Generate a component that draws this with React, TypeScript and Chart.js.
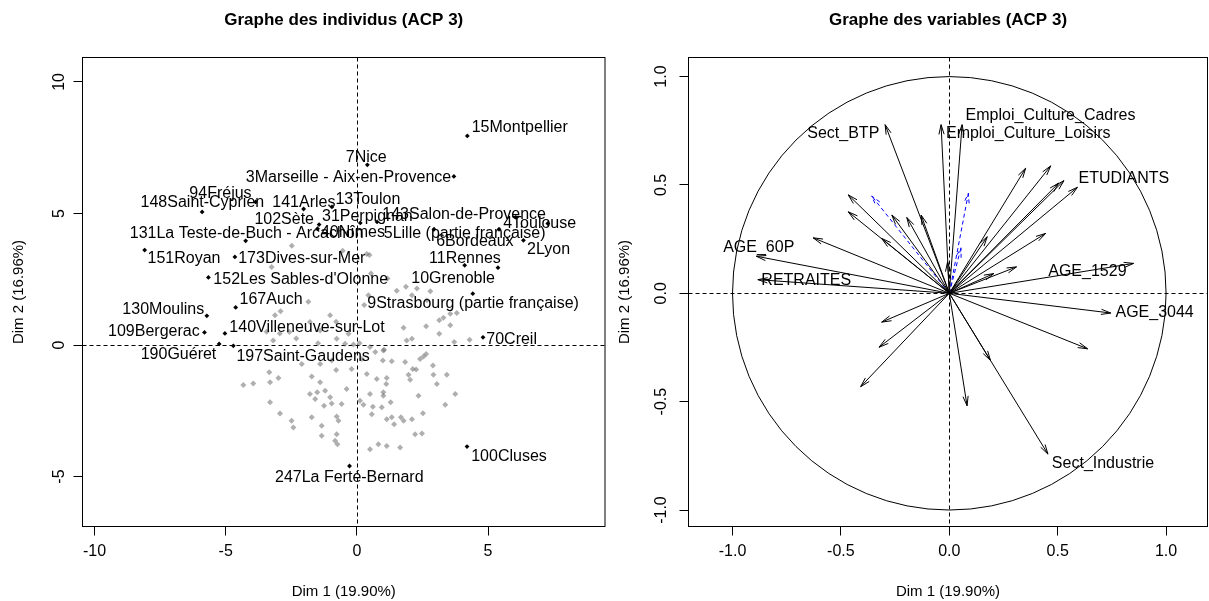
import React, { useEffect, useRef } from "react";
import { Chart, registerables } from "chart.js";

Chart.register(...registerables);

const FONT_FAMILY = '"Liberation Sans", Arial, Helvetica, sans-serif';

// ---------------- Individuals panel ----------------
const indivTitle = "Graphe des individus (ACP 3)";
const xAxisTitle = "Dim 1 (19.90%)";
const yAxisTitle = "Dim 2 (16.96%)";
const indivXTicks = [-10, -5, 0, 5];
const indivXTickLabels = ["-10", "-5", "0", "5"];
const indivYTicks = [-5, 0, 5, 10];
const indivYTickLabels = ["-5", "0", "5", "10"];
const indivXRange = [-10.46, 9.46];
const indivYRange = [-6.9, 10.93];

// grey (non-labelled) individuals
const greyX = [-4.33,-3.95,-3.31,-3.31,-3.34,-2.99,-2.93,-2.49,-2.42,-3.25,
  -3.12,-2.91,-3.19,-2.57,-1.79,-1.85,-1.02,-1.40,-0.77,-0.45,
  -0.13,-2.10,-1.40,-0.96,-1.72,-1.40,-1.79,-1.51,-1.21,-1.02,
  -1.59,-1.25,-0.96,-0.58,-0.39,-1.72,-1.34,-1.34,-0.77,-0.70,
  -0.77,-0.83,-0.74,0.12,0.25,0.50,0.61,0.95,0.57,1.01,
  1.01,1.14,0.76,0.38,0.19,-0.20,1.12,1.29,1.33,1.14,
  1.42,1.68,1.78,2.10,2.22,2.48,2.35,2.52,3.05,3.37,
  3.75,2.92,3.43,2.90,2.54,2.41,2.64,2.13,1.97,2.03,
  2.26,1.84,1.33,0.99,1.04,0.70,0.50,1.90,2.10,1.78,
  2.64,3.14,3.56,3.71,4.30,3.14,3.30,3.56,3.81,2.80,
  2.29,1.87,1.52,1.17,2.10,2.67,0.44,0.50,0.82,1.14,
  1.65,-0.32,1.01,-3.44,-2.94,-2.31,-0.79,-1.48,0.10,0.28,
  0.48,0.54,-0.79,-2.48,-0.54,0.38];
const greyY = [-1.52,-1.46,-1.42,-2.18,-1.04,-1.25,-2.60,-2.88,-3.14,2.97,
  1.13,1.28,0.17,0.49,0.87,1.64,1.13,0.55,0.24,0.05,
  0.02,-0.72,-0.72,-0.59,-1.20,-1.42,-1.86,-1.80,-1.74,-1.99,
  -2.05,-2.31,-2.22,-2.24,-1.67,-2.75,-3.07,-3.45,-2.72,-2.88,
  -3.39,-3.64,-3.77,-2.12,-2.27,-1.86,-2.35,-2.37,-2.63,-1.80,
  -1.93,-1.25,-1.29,-1.10,-0.53,-0.91,-1.48,-2.18,-2.75,-2.82,
  -3.01,-2.75,-2.88,-2.82,-3.39,-3.36,-1.93,-2.59,-1.48,-2.27,
  -1.86,-1.13,-1.13,-0.78,-0.44,-0.53,-0.34,-0.91,-1.13,-1.32,
  -0.93,-0.65,-0.62,-0.59,-0.18,-0.27,-0.08,0.17,0.24,0.66,
  0.71,0.43,0.75,0.11,0.20,0.94,1.04,1.19,1.22,2.04,
  2.15,2.21,2.06,2.53,1.89,1.70,1.89,-3.96,-3.77,-3.84,
  -3.90,0.43,-0.21,0.50,0.44,0.25,0.88,0.07,0.07,1.52,
  3.42,2.72,-0.95,3.77,3.58,3.46];

// black (highlighted) individuals
const blackX = [4.21,0.40,3.70,-3.86,-5.90,-2.03,-0.95,-1.44,-1.50,0.13,0.77,2.94,5.42,6.06,7.28,6.35,
  -4.24,-8.09,-4.65,-5.66,4.11,5.38,4.42,-4.62,-5.72,-5.81,-5.03,4.81,-5.25,-4.71,4.20,-0.28];
const blackY = [7.95,6.85,6.41,5.44,5.06,5.17,5.25,4.58,4.42,4.64,4.68,4.40,4.40,4.85,4.62,3.98,
  3.96,3.61,3.35,2.57,3.03,2.94,1.95,1.43,1.11,0.48,0.44,0.29,0.04,-0.03,-3.86,-4.60];

// labels of individuals (text anchor in data units)
const indivLabels = ["15Montpellier","7Nice","3Marseille - Aix-en-Provence","94Fréjus","148Saint-Cyprien",
  "141Arles","13Toulon","102Sète","31Perpignan","143Salon-de-Provence","4Toulouse","40Nîmes",
  "5Lille (partie française)","6Bordeaux","2Lyon","131La Teste-de-Buch - Arcachon","151Royan",
  "173Dives-sur-Mer","11Rennes","152Les Sables-d'Olonne","10Grenoble","167Auch",
  "9Strasbourg (partie française)","130Moulins","109Bergerac","140Villeneuve-sur-Lot","70Creil",
  "190Guéret","197Saint-Gaudens","100Cluses","247La Ferté-Bernard"];
const indivLabelX = [6.21,0.36,-0.32,-5.20,-5.89,-2.02,0.42,-2.77,0.40,4.09,6.97,-0.15,4.11,4.50,7.31,
  -4.20,-6.59,-2.10,4.12,-2.14,3.67,-3.27,4.43,-7.38,-7.74,-1.90,5.90,-6.80,-2.05,5.80,-0.29];
const indivLabelY = [8.26,7.14,6.38,5.75,5.40,5.40,5.51,4.77,4.90,4.94,4.60,4.28,4.25,3.95,3.63,
  4.22,3.27,3.27,3.29,2.50,2.51,1.71,1.58,1.36,0.51,0.67,0.22,-0.38,-0.44,-4.24,-5.04];

// ---------------- Variables panel ----------------
const varTitle = "Graphe des variables (ACP 3)";
const varTicks = [-1, -0.5, 0, 0.5, 1];
const varTickLabels = ["-1.0", "-0.5", "0.0", "0.5", "1.0"];
const varXRange = [-1.203, 1.191];
const varYRange = [-1.076, 1.088];

// active variables (arrow tips)
const activeVarX = [0.059,-0.038,-0.296,-0.890,-0.883,0.591,0.850,0.745,0.455,
  -0.466,-0.466,-0.628,-0.265,-0.196,-0.130,-0.312,-0.008,0.175,0.352,0.468,
  0.529,0.505,0.444,0.310,0.205,-0.312,-0.324,-0.409,0.082,0.638,0.190];
const activeVarY = [0.778,0.778,0.778,0.171,0.063,0.489,0.138,-0.091,-0.742,
  0.454,0.376,0.256,0.361,0.350,0.361,0.253,0.145,0.261,0.577,0.588,
  0.520,0.509,0.276,0.122,0.091,-0.133,-0.249,-0.431,-0.519,-0.256,-0.310];

// supplementary variables (blue dashed arrows)
const suppVarX = [-0.358, 0.088, 0.054];
const suppVarY = [0.449, 0.461, 0.210];

const varLabels = ["Emploi_Culture_Cadres","Emploi_Culture_Loisirs","Sect_BTP","AGE_60P","RETRAITES",
  "ETUDIANTS","AGE_1529","AGE_3044","Sect_Industrie"];
const varLabelX = [0.467,0.364,-0.489,-0.879,-0.660,0.805,0.637,0.947,0.709];
const varLabelY = [0.822,0.738,0.738,0.210,0.060,0.529,0.100,-0.089,-0.784];

// ---------------- helpers ----------------
function framePlugin(circle: boolean) {
  return {
    id: "rFrame",
    beforeDatasetsDraw(chart: any) {
      const { ctx, chartArea: a, scales } = chart;
      const xs = scales.x, ys = scales.y;
      ctx.save();
      ctx.beginPath();
      ctx.rect(a.left, a.top, a.width, a.height);
      ctx.clip();
      ctx.strokeStyle = "#000";
      ctx.lineWidth = 1;
      ctx.setLineDash([4, 3]);
      const x0 = Math.round(xs.getPixelForValue(0)) + 0.5;
      const y0 = Math.round(ys.getPixelForValue(0)) + 0.5;
      ctx.beginPath();
      ctx.moveTo(x0, a.top);
      ctx.lineTo(x0, a.bottom);
      ctx.moveTo(a.left, y0);
      ctx.lineTo(a.right, y0);
      ctx.stroke();
      ctx.setLineDash([]);
      if (circle) {
        const cx = xs.getPixelForValue(0), cy = ys.getPixelForValue(0);
        const rx = xs.getPixelForValue(1) - cx;
        const ry = cy - ys.getPixelForValue(1);
        ctx.beginPath();
        ctx.ellipse(cx, cy, rx, ry, 0, 0, Math.PI * 2);
        ctx.stroke();
      }
      ctx.restore();
    },
    afterDraw(chart: any) {
      const { ctx, chartArea: a } = chart;
      ctx.save();
      ctx.strokeStyle = "#000";
      ctx.lineWidth = 1;
      ctx.strokeRect(a.left, a.top, a.right - a.left, a.bottom - a.top);
      ctx.restore();
    },
  };
}

function textPlugin(texts: string[], xs: number[], ys: number[]) {
  return {
    id: "rText",
    afterDatasetsDraw(chart: any) {
      const { ctx, scales } = chart;
      ctx.save();
      ctx.font = `16px ${FONT_FAMILY}`;
      ctx.fillStyle = "#000";
      ctx.textAlign = "center";
      ctx.textBaseline = "middle";
      texts.forEach((t, i) => {
        ctx.fillText(t, scales.x.getPixelForValue(xs[i]), scales.y.getPixelForValue(ys[i]));
      });
      ctx.restore();
    },
  };
}

const arrowPlugin = {
  id: "rArrows",
  afterDatasetsDraw(chart: any) {
    const { ctx } = chart;
    ctx.save();
    chart.data.datasets.forEach((ds: any, i: number) => {
      if (!ds.arrow) return;
      const meta = chart.getDatasetMeta(i);
      const p0 = meta.data[0], p1 = meta.data[1];
      const ang = Math.atan2(p1.y - p0.y, p1.x - p0.x);
      const len = 10, half = (15 * Math.PI) / 180;
      ctx.strokeStyle = ds.borderColor;
      ctx.lineWidth = 1;
      ctx.setLineDash(ds.borderDash || []);
      ctx.beginPath();
      ctx.moveTo(p1.x - len * Math.cos(ang - half), p1.y - len * Math.sin(ang - half));
      ctx.lineTo(p1.x, p1.y);
      ctx.lineTo(p1.x - len * Math.cos(ang + half), p1.y - len * Math.sin(ang + half));
      ctx.stroke();
    });
    ctx.restore();
  },
};

function xAxis(range: number[], ticks: number[], labels: string[]) {
  return {
    type: "linear",
    position: "bottom",
    min: range[0],
    max: range[1],
    bounds: "data",
    afterBuildTicks: (s: any) => {
      s.ticks = ticks.map((v) => ({ value: v }));
    },
    afterFit: (s: any) => {
      s.height = 74.5;
    },
    grid: { display: true, drawOnChartArea: false, drawTicks: true, tickLength: 9, color: "#000", lineWidth: 1 },
    border: { display: false },
    ticks: {
      font: { family: FONT_FAMILY, size: 16 },
      color: "#000",
      padding: 6,
      autoSkip: false,
      minRotation: 0,
      maxRotation: 0,
      callback: (_v: any, i: number) => labels[i],
    },
    title: {
      display: true,
      text: xAxisTitle,
      color: "#000",
      font: { family: FONT_FAMILY, size: 15 },
      padding: { top: 0, bottom: 0 },
    },
  };
}

function yAxis(range: number[], ticks: number[], labels: string[], width: number, pad: number, titlePad: number) {
  return {
    type: "linear",
    position: "left",
    min: range[0],
    max: range[1],
    bounds: "data",
    afterBuildTicks: (s: any) => {
      s.ticks = ticks.map((v) => ({ value: v }));
    },
    afterFit: (s: any) => {
      s.width = width;
    },
    grid: { display: true, drawOnChartArea: false, drawTicks: true, tickLength: 9, color: "#000", lineWidth: 1 },
    border: { display: false },
    ticks: {
      font: { family: FONT_FAMILY, size: 16 },
      color: "#000",
      padding: pad,
      autoSkip: false,
      minRotation: 90,
      maxRotation: 90,
      crossAlign: "center",
      callback: (_v: any, i: number) => labels[i],
    },
    title: {
      display: true,
      text: yAxisTitle,
      color: "#000",
      font: { family: FONT_FAMILY, size: 15 },
      padding: { top: titlePad, bottom: 0 },
    },
  };
}

function titleOpts(text: string) {
  return {
    display: true,
    text,
    color: "#000",
    fullSize: false,
    font: { family: FONT_FAMILY, size: 17, weight: "bold" },
    padding: { top: 9.8, bottom: 27.3 },
  };
}

function indivConfig(): any {
  return {
    type: "scatter",
    data: {
      datasets: [
        {
          data: greyX.map((x, i) => ({ x, y: greyY[i] })),
          pointStyle: "rectRot",
          pointRadius: 3,
          pointBorderWidth: 0,
          backgroundColor: "rgba(110,110,110,0.55)",
          borderColor: "rgba(0,0,0,0)",
        },
        {
          data: blackX.map((x, i) => ({ x, y: blackY[i] })),
          pointStyle: "rectRot",
          pointRadius: 2.4,
          pointBorderWidth: 0,
          backgroundColor: "#000",
          borderColor: "#000",
        },
      ],
    },
    options: {
      responsive: false,
      animation: false,
      devicePixelRatio: 1,
      events: [],
      layout: { padding: { left: 0, right: 2.5, top: 0, bottom: 0 } },
      plugins: {
        legend: { display: false },
        tooltip: { enabled: false },
        title: titleOpts(indivTitle),
      },
      scales: {
        x: xAxis(indivXRange, indivXTicks, indivXTickLabels),
        y: yAxis(indivYRange, indivYTicks, indivYTickLabels, 82.5, 5.2, 9.5),
      },
    },
    plugins: [framePlugin(false), textPlugin(indivLabels, indivLabelX, indivLabelY)],
  };
}

function varConfig(): any {
  const arrows: any[] = [];
  activeVarX.forEach((x, i) => {
    arrows.push({
      data: [{ x: 0, y: 0 }, { x, y: activeVarY[i] }],
      showLine: true,
      borderColor: "#000",
      borderWidth: 1,
      pointRadius: 0,
      arrow: true,
    });
  });
  suppVarX.forEach((x, i) => {
    arrows.push({
      data: [{ x: 0, y: 0 }, { x, y: suppVarY[i] }],
      showLine: true,
      borderColor: "#0000FF",
      borderWidth: 1,
      borderDash: [4, 3],
      pointRadius: 0,
      arrow: true,
    });
  });
  return {
    type: "scatter",
    data: { datasets: arrows },
    options: {
      responsive: false,
      animation: false,
      devicePixelRatio: 1,
      events: [],
      layout: { padding: { left: 0, right: 1.5, top: 0, bottom: 0 } },
      plugins: {
        legend: { display: false },
        tooltip: { enabled: false },
        title: titleOpts(varTitle),
      },
      scales: {
        x: xAxis(varXRange, varTicks, varTickLabels),
        y: yAxis(varYRange, varTicks, varTickLabels, 79.5, 4.2, 6.5),
      },
    },
    plugins: [framePlugin(true), arrowPlugin, textPlugin(varLabels, varLabelX, varLabelY)],
  };
}

function Panel({ left, width, make }: { left: number; width: number; make: () => any }) {
  const ref = useRef<HTMLCanvasElement>(null);
  useEffect(() => {
    const chart = new Chart(ref.current as HTMLCanvasElement, make());
    return () => chart.destroy();
  }, []);
  return (
    <canvas
      ref={ref}
      width={width}
      height={601}
      style={{ position: "absolute", left, top: 0, width, height: 601 }}
    />
  );
}

export default function App() {
  return (
    <div style={{ position: "absolute", left: 0, top: 0, width: 1209, height: 601, background: "#fff" }}>
      <Panel left={0} width={609} make={indivConfig} />
      <Panel left={609} width={600} make={varConfig} />
    </div>
  );
}
